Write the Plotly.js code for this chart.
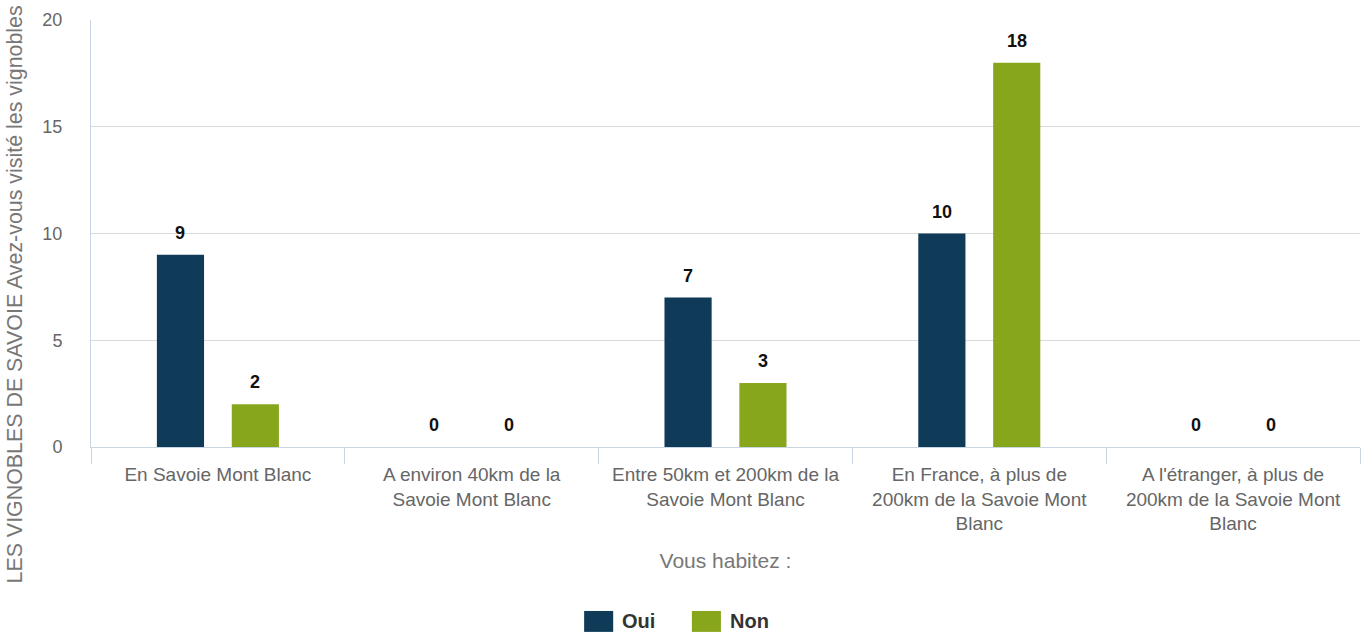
<!DOCTYPE html>
<html>
<head>
<meta charset="utf-8">
<script src="https://cdn.plot.ly/plotly-3.0.1.min.js"></script>
<style>html,body{margin:0;padding:0;background:#fff;}#chart{width:1367px;height:635px;}</style>
</head>
<body>
<div id="chart"></div>
<script>
const categories = [
  "En Savoie Mont Blanc",
  "A environ 40km de la<br>Savoie Mont Blanc",
  "Entre 50km et 200km de la<br>Savoie Mont Blanc",
  "En France, à plus de<br>200km de la Savoie Mont<br>Blanc",
  "A l'étranger, à plus de<br>200km de la Savoie Mont<br>Blanc"
];
const seriesNames = ["Oui", "Non"];
const ouiValues = [9, 0, 7, 10, 0];
const nonValues = [2, 0, 3, 18, 0];
const seriesColors = ["#103b58", "#88a61c"];
const yTickValues = [0, 5, 10, 15, 20];
const xTitle = "Vous habitez :";
const yTitle = "LES VIGNOBLES DE SAVOIE Avez-vous visité les vignobles";

const FONT = "'Liberation Sans', Arial, Helvetica, sans-serif";
const bargap = 0.41;
const bargroupgap = 0.37;

const allSeries = [ouiValues, nonValues];
const traces = allSeries.map((vals, i) => ({
  type: "bar",
  name: seriesNames[i],
  x: categories,
  y: vals,
  marker: {color: seriesColors[i], line: {width: 0}},
  showlegend: false,
  hoverinfo: "x+y+name"
}));

const annotations = [];
const nS = allSeries.length;
const slot = (1 - bargap) / nS;
allSeries.forEach((vals, s) => {
  const off = -((1 - bargap) / 2) + slot * (s + 0.5);
  vals.forEach((v, c) => {
    annotations.push({
      xref: "x", yref: "y",
      x: c + off, y: v,
      text: "<b>" + v + "</b>",
      showarrow: false,
      yanchor: "middle", xanchor: "center",
      yshift: 22,
      font: {family: FONT, size: 18, color: "#111111"}
    });
  });
});

// y-axis title (rotated), placed like the reference
annotations.push({
  xref: "paper", yref: "paper",
  x: -0.0595, y: 0.3583,
  text: yTitle,
  textangle: -90,
  showarrow: false,
  xanchor: "center", yanchor: "middle",
  font: {family: FONT, size: 21.4, color: "#777777"}
});

// custom legend
const shapes = [];
const legX = [0.3886, 0.4735];
seriesNames.forEach((n, i) => {
  shapes.push({
    type: "rect", xref: "paper", yref: "paper",
    x0: legX[i], x1: legX[i] + 0.0229,
    y0: -0.384, y1: -0.433,
    fillcolor: seriesColors[i], line: {width: 0}
  });
  annotations.push({
    xref: "paper", yref: "paper",
    x: legX[i] + 0.0229 + 0.0055, y: -0.4085,
    text: "<b>" + n + "</b>",
    showarrow: false, xanchor: "left", yanchor: "middle",
    font: {family: FONT, size: 20, color: "#333333"}
  });
});

const layout = {
  width: 1367, height: 635,
  margin: {l: 91, r: 7, t: 20, b: 188, pad: 0},
  paper_bgcolor: "#ffffff",
  plot_bgcolor: "#ffffff",
  barmode: "group",
  bargap: bargap,
  bargroupgap: bargroupgap,
  showlegend: false,
  font: {family: FONT, color: "#666666"},
  xaxis: {
    type: "category",
    tickson: "boundaries",
    ticks: "outside",
    ticklen: 16,
    tickwidth: 1,
    tickcolor: "#c8d5e3",
    showline: true,
    linecolor: "#c8d5e3",
    linewidth: 1,
    showgrid: false,
    ticklabelstandoff: 10,
    tickfont: {family: FONT, size: 19, color: "#666666"},
    title: {text: xTitle, font: {family: FONT, size: 21, color: "#777777"}, standoff: 20},
    fixedrange: true
  },
  yaxis: {
    range: [0, 20],
    tickvals: yTickValues,
    ticktext: yTickValues.map(String),
    showline: true,
    linecolor: "#c8d5e3",
    linewidth: 1,
    showgrid: true,
    gridcolor: "#dadada",
    gridwidth: 1,
    zeroline: false,
    ticks: "",
    ticklabelstandoff: 24,
    tickfont: {family: FONT, size: 18, color: "#666666"},
    fixedrange: true
  },
  shapes: shapes,
  annotations: annotations
};

Plotly.newPlot("chart", traces, layout, {displayModeBar: false, staticPlot: true});
</script>
</body>
</html>
